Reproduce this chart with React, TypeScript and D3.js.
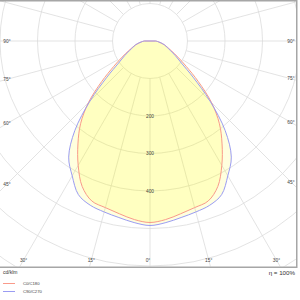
import React, { useEffect, useRef } from "react";
import * as d3 from "d3";

// intensity (cd/klm) per angle from nadir
const ANGLES = [0, 5, 10, 15, 20, 25, 30, 35, 40, 45, 50, 55, 60, 65, 70, 75, 80, 85, 90];
const C0_C180 = [484, 478, 468, 460, 454, 428, 383, 335, 288, 232, 168, 118, 86, 64, 50, 40, 30, 22, 15];
const C90_C270 = [492, 486, 478, 472, 466, 452, 415, 378, 312, 226, 150, 102, 78, 60, 48, 40, 30, 22, 15];

const RINGS = [100, 200, 300, 400, 500, 600, 700];
const RING_LABELS = [200, 300, 400];
const ANGLE_TICKS = [0, 15, 30, 45, 60, 75, 90];

const SERIES = [
  { name: "C0/C180", values: C0_C180, color: "#f99a8a" },
  { name: "C90/C270", values: C90_C270, color: "#9a9cf2" },
];

const FONT = "'Liberation Sans', Arial, sans-serif";

export default function App() {
  const svgRef = useRef<SVGSVGElement>(null);

  useEffect(() => {
    if (!svgRef.current) return;
    const svg = d3.select(svgRef.current);
    svg.selectAll("*").remove();

    const cx = 150;
    const cy = 41;
    const boxW = 296;
    const boxH = 266.5;

    const r = d3.scaleLinear().domain([0, 100]).range([0, 37.5]);
    const rad = (deg: number) => (deg * Math.PI) / 180;

    svg
      .append("defs")
      .append("clipPath")
      .attr("id", "box")
      .append("rect")
      .attr("x", 0)
      .attr("y", 0)
      .attr("width", boxW)
      .attr("height", boxH);

    const plot = svg.append("g").attr("clip-path", "url(#box)");
    const g = plot.append("g").attr("transform", `translate(${cx},${cy})`);

    // grid rings
    g.selectAll(".ring")
      .data(RINGS)
      .enter()
      .append("circle")
      .attr("r", (d) => r(d))
      .attr("fill", "none")
      .attr("stroke", "#dcdcdc")
      .attr("stroke-width", 0.8);

    // radial spokes every 15 degrees
    const spokes = d3.range(0, 360, 15);
    g.selectAll(".spoke")
      .data(spokes)
      .enter()
      .append("line")
      .attr("x1", (d) => r(100) * Math.sin(rad(d)))
      .attr("y1", (d) => r(100) * Math.cos(rad(d)))
      .attr("x2", (d) => r(900) * Math.sin(rad(d)))
      .attr("y2", (d) => r(900) * Math.cos(rad(d)))
      .attr("stroke", "#dcdcdc")
      .attr("stroke-width", 0.8);

    // curves
    const line = d3
      .lineRadial<[number, number]>()
      .angle((d) => d[0])
      .radius((d) => r(d[1]))
      .curve(d3.curveCatmullRom);

    SERIES.forEach((s) => {
      const pts: [number, number][] = [];
      for (let i = ANGLES.length - 1; i >= 0; i--) pts.push([Math.PI + rad(ANGLES[i]), s.values[i]]);
      for (let i = 1; i < ANGLES.length; i++) pts.push([Math.PI - rad(ANGLES[i]), s.values[i]]);
      const d = (line(pts) || "") + "Z";
      g.append("path")
        .attr("d", d)
        .attr("fill", "#ffff00")
        .attr("fill-opacity", 0.13)
        .attr("stroke", "none");
      s.path = d;
    });
    SERIES.forEach((s: any) => {
      g.append("path")
        .attr("d", s.path)
        .attr("fill", "none")
        .attr("stroke", s.color)
        .attr("stroke-width", 1);
    });

    // ring value labels
    g.selectAll(".rlab")
      .data(RING_LABELS)
      .enter()
      .append("text")
      .attr("x", 0)
      .attr("y", (d) => r(d))
      .attr("text-anchor", "middle")
      .attr("dominant-baseline", "central")
      .attr("font-family", FONT)
      .attr("font-size", 4.8)
      .attr("fill", "#444")
      .text((d) => d);

    // angle labels, placed where each spoke meets the inset edge
    const leftX = 7;
    const rightX = 291;
    const bottomY = 260;
    const labels: { a: number; x: number; y: number }[] = [];
    ANGLE_TICKS.forEach((a) => {
      const sides = a === 0 ? [1] : [-1, 1];
      sides.forEach((side) => {
        const dx = side * Math.sin(rad(a));
        const dy = Math.cos(rad(a));
        const tx = dx !== 0 ? (side < 0 ? (cx - leftX) / -dx : (rightX - cx) / dx) : Infinity;
        const ty = dy > 1e-6 ? (bottomY - cy) / dy : Infinity;
        const t = Math.min(Math.abs(tx), ty);
        labels.push({ a, x: cx + dx * t - (a === 0 ? 2 : 0), y: cy + dy * t });
      });
    });
    svg
      .selectAll(".alab")
      .data(labels)
      .enter()
      .append("text")
      .attr("x", (d) => d.x)
      .attr("y", (d) => d.y)
      .attr("text-anchor", "middle")
      .attr("dominant-baseline", "central")
      .attr("font-family", FONT)
      .attr("font-size", 4.8)
      .attr("fill", "#444")
      .text((d) => `${d.a}°`);

    // frame
    svg
      .append("path")
      .attr("d", `M0,0.75H${boxW + 0.75}V${boxH + 0.75}H0`)
      .attr("fill", "none")
      .attr("stroke", "#a6a6a6")
      .attr("stroke-width", 1.5);

    // footer
    svg
      .append("text")
      .attr("x", 3)
      .attr("y", 272)
      .attr("dominant-baseline", "central")
      .attr("font-family", FONT)
      .attr("font-size", 5)
      .attr("fill", "#333")
      .text("cd/klm");

    svg
      .append("text")
      .attr("x", 295)
      .attr("y", 272)
      .attr("text-anchor", "end")
      .attr("dominant-baseline", "central")
      .attr("font-family", FONT)
      .attr("font-size", 6.2)
      .attr("fill", "#333")
      .text("η = 100%");

    const legend = svg
      .selectAll(".leg")
      .data(SERIES)
      .enter()
      .append("g")
      .attr("transform", (_, i) => `translate(0,${283.5 + i * 8})`);
    legend
      .append("line")
      .attr("x1", 3)
      .attr("x2", 15)
      .attr("stroke", (d) => d.color)
      .attr("stroke-width", 1);
    legend
      .append("text")
      .attr("x", 23)
      .attr("dominant-baseline", "central")
      .attr("font-family", FONT)
      .attr("font-size", 4.2)
      .attr("fill", "#444")
      .text((d) => d.name);
  }, []);

  return (
    <svg
      ref={svgRef}
      width={300}
      height={300}
      viewBox="0 0 300 300"
      style={{ position: "fixed", left: 0, top: 0, background: "#fff" }}
    />
  );
}
